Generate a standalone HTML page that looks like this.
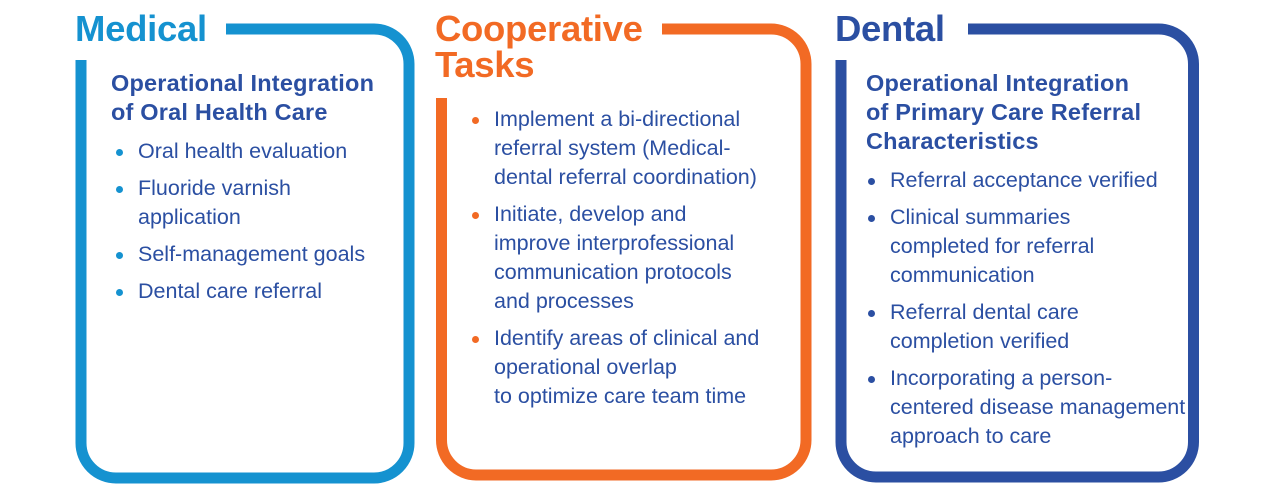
<!DOCTYPE html>
<html><head><meta charset="utf-8"><style>
body{margin:0;width:1275px;height:500px;background:#fff;position:relative;overflow:hidden;font-family:"Liberation Sans",Arial,sans-serif}
svg{position:absolute;left:0;top:0}
.h{position:absolute;font-weight:bold;font-size:36.5px;line-height:36px;letter-spacing:-0.3px}
.s{position:absolute;color:#2b4fa2;font-weight:bold;font-size:23.5px;line-height:29px;letter-spacing:0.2px}
ul{position:absolute;margin:0;padding:0;list-style:none;color:#2b4fa2;font-size:21.5px;line-height:29px}
li{position:relative;padding-left:0;margin-bottom:8px;white-space:nowrap}
li:before{content:"";position:absolute;left:-22px;top:12px;width:7px;height:7px;border-radius:50%;background:currentColor}
.m li:before{background:#1592d0}.o li:before{background:#f26a24}.d li:before{background:#2b4fa2}
</style></head><body>
<svg width="1275" height="500">
<path d="M226,29 H374 A35,35 0 0 1 409,64 V443 A35,35 0 0 1 374,478 H116 A35,35 0 0 1 81,443 V60" fill="none" stroke="#1592d0" stroke-width="11"/>
<path d="M662,29 H771 A35,35 0 0 1 806,64 V440 A35,35 0 0 1 771,475 H476 A35,35 0 0 1 441.5,440 V98" fill="none" stroke="#f26a24" stroke-width="11"/>
<path d="M968,29 H1158 A35,35 0 0 1 1193.5,64 V442 A35,35 0 0 1 1158,477 H876 A35,35 0 0 1 841,442 V60" fill="none" stroke="#2b4fa2" stroke-width="11"/>
</svg>
<div class="h" style="left:75px;top:11px;color:#1592d0">Medical</div>
<div class="h" style="left:435px;top:11px;color:#f26a24">Cooperative<br>Tasks</div>
<div class="h" style="left:835px;top:11px;color:#2b4fa2">Dental</div>
<div class="s" style="left:111px;top:69px">Operational Integration<br>of Oral Health Care</div>
<ul class="m" style="left:138px;top:137px">
<li>Oral health evaluation</li>
<li>Fluoride varnish<br>application</li>
<li>Self-management goals</li>
<li>Dental care referral</li>
</ul>
<ul class="o" style="left:494px;top:105px">
<li>Implement a bi-directional<br>referral system (Medical-<br>dental referral coordination)</li>
<li>Initiate, develop and<br>improve interprofessional<br>communication protocols<br>and processes</li>
<li>Identify areas of clinical and<br>operational overlap<br>to optimize care team time</li>
</ul>
<div class="s" style="left:866px;top:69px">Operational Integration<br>of Primary Care Referral<br>Characteristics</div>
<ul class="d" style="left:890px;top:166px">
<li>Referral acceptance verified</li>
<li>Clinical summaries<br>completed for referral<br>communication</li>
<li>Referral dental care<br>completion verified</li>
<li>Incorporating a person-<br>centered disease management<br>approach to care</li>
</ul>
</body></html>
